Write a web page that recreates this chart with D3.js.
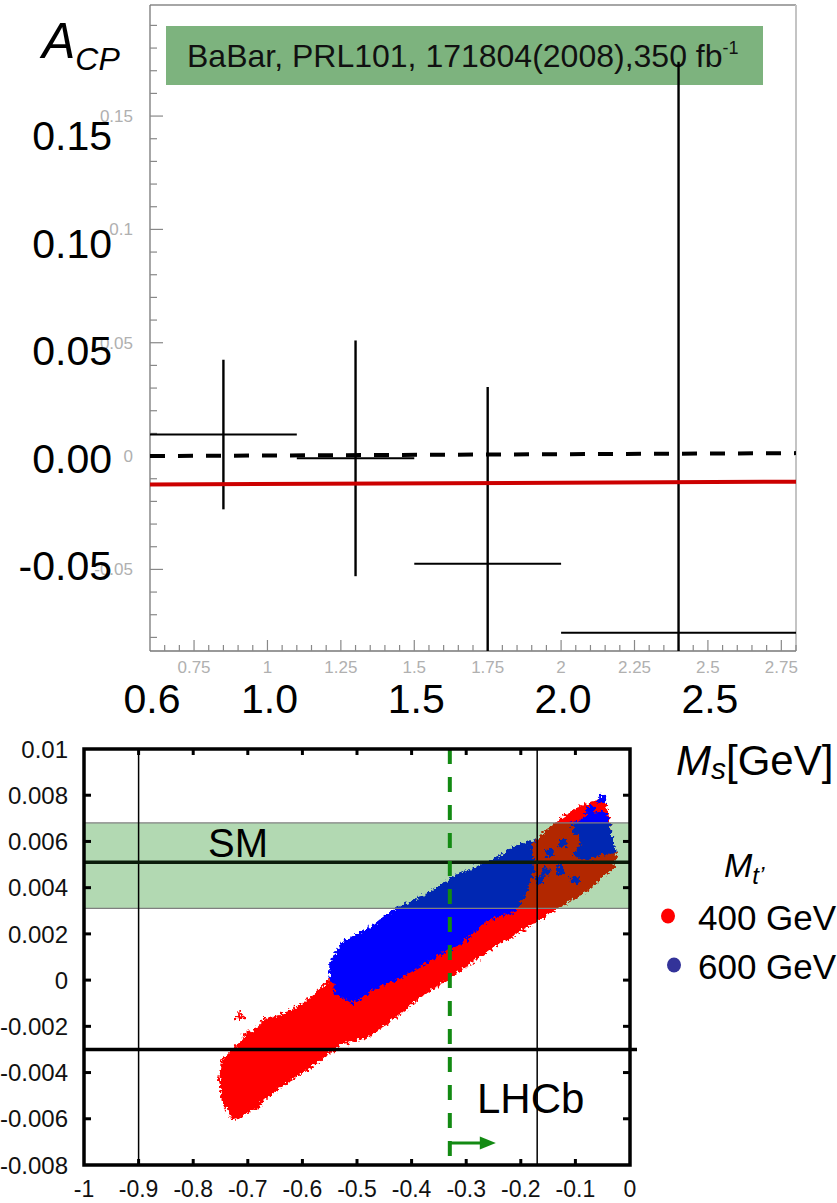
<!DOCTYPE html>
<html>
<head>
<meta charset="utf-8">
<script src="https://cdn.jsdelivr.net/npm/d3@7"></script>
<style>
  body { margin: 0; background: #fff; }
  svg { display: block; font-family: "Liberation Sans", Arial, sans-serif; }
</style>
</head>
<body>
<svg id="fig" width="837" height="1203"></svg>
<script>
// upper panel: A_CP per M_s bin
var binEdges = [[0.6, 1.1], [1.1, 1.5], [1.5, 2.0], [2.0, 2.8]];
var binCenters = [0.85, 1.3, 1.75, 2.4];
var acpValues = [0.0095, -0.001, -0.0475, -0.078];
var acpErrors = [0.033, 0.052, 0.078, 0.252];
var smLine = [[0.6, 0], [2.8, 0.0013]];
var modelLine = [[0.6, -0.0125], [2.8, -0.0113]];
var smallTicksY = [-0.05, 0, 0.05, 0.1, 0.15];
var smallLabelsY = ["-0.05", "0", "0.05", "0.1", "0.15"];
var smallTicksX = [0.75, 1, 1.25, 1.5, 1.75, 2, 2.25, 2.5, 2.75];
var smallLabelsX = ["0.75", "1", "1.25", "1.5", "1.75", "2", "2.25", "2.5", "2.75"];
var bigTicksY = [0.15, 0.10, 0.05, 0, -0.05];
var bigLabelsY = ["0.15", "0.10", "0.05", "0.00", "-0.05"];
var bigTicksX = [0.6, 1.0, 1.5, 2.0, 2.5];
var bigLabelsX = ["0.6", "1.0", "1.5", "2.0", "2.5"];

// lower panel: scan regions, outlines in data units
var redCloud = [
  [-0.751, -0.00432], [-0.745, -0.00530], [-0.727, -0.00600], [-0.714, -0.00590],
  [-0.687, -0.00553], [-0.665, -0.00506], [-0.623, -0.00432], [-0.568, -0.00346],
  [-0.526, -0.00272], [-0.482, -0.00246], [-0.421, -0.00142], [-0.385, -0.00073],
  [-0.330, 0.00013], [-0.251, 0.00143], [-0.178, 0.00247], [-0.141, 0.00303],
  [-0.079, 0.00390], [-0.031, 0.00489], [-0.024, 0.00533], [-0.033, 0.00576],
  [-0.037, 0.00650], [-0.042, 0.00727], [-0.049, 0.00779], [-0.073, 0.00766],
  [-0.092, 0.00749], [-0.123, 0.00701], [-0.152, 0.00650], [-0.178, 0.00585],
  [-0.201, 0.00563], [-0.275, 0.00433], [-0.385, 0.00260], [-0.476, 0.00152],
  [-0.513, 0.00065], [-0.518, 0.00031], [-0.544, 0.00013], [-0.581, -0.00073],
  [-0.617, -0.00129], [-0.665, -0.00173], [-0.714, -0.00272], [-0.745, -0.00346]
];
var blueCloud = [
  [-0.549, 0.00078], [-0.526, 0.00161], [-0.495, 0.00204], [-0.476, 0.00225],
  [-0.440, 0.00290], [-0.421, 0.00316], [-0.379, 0.00360], [-0.348, 0.00403],
  [-0.324, 0.00446], [-0.280, 0.00489], [-0.238, 0.00533], [-0.214, 0.00576],
  [-0.189, 0.00593], [-0.165, 0.00606], [-0.152, 0.00640], [-0.123, 0.00660],
  [-0.092, 0.00690], [-0.065, 0.00720], [-0.046, 0.00727], [-0.037, 0.00650],
  [-0.028, 0.00560], [-0.046, 0.00511], [-0.073, 0.00476], [-0.128, 0.00433],
  [-0.156, 0.00390], [-0.178, 0.00325], [-0.225, 0.00290], [-0.262, 0.00260],
  [-0.311, 0.00160], [-0.366, 0.00090], [-0.416, 0.00022], [-0.476, -0.00043],
  [-0.507, -0.00099], [-0.537, -0.00056], [-0.549, 0.00022]
];
var redOverlay = [
  [-0.178, 0.00585], [-0.152, 0.00640], [-0.128, 0.00684], [-0.101, 0.00658],
  [-0.092, 0.00585], [-0.110, 0.00542], [-0.082, 0.00511], [-0.046, 0.00541],
  [-0.024, 0.00533], [-0.031, 0.00489], [-0.079, 0.00390], [-0.141, 0.00303],
  [-0.178, 0.00247], [-0.201, 0.00225], [-0.211, 0.00282], [-0.189, 0.00369],
  [-0.174, 0.00476]
];
var blueMarks = [
  [-0.123, 0.00593], [-0.097, 0.00650], [-0.147, 0.00550], [-0.128, 0.00476],
  [-0.165, 0.00433], [-0.101, 0.00433], [-0.051, 0.00784], [-0.073, 0.00736],
  [-0.188, 0.00520], [-0.155, 0.00470], [-0.060, 0.00600], [-0.085, 0.00560]
];
var redMarks = [[-0.668, -0.00181], [-0.683, -0.00540], [-0.700, -0.00240], [-0.715, -0.00160]];
var smBand = [0.0031, 0.0068];
var smCentral = 0.0051;
var lhcbLimit = -0.003;
var refLinesX = [-0.9, -0.17];
var lhcbCutX = -0.33;
var botTicksX = [-1, -0.9, -0.8, -0.7, -0.6, -0.5, -0.4, -0.3, -0.2, -0.1, 0];
var botLabelsX = ["-1", "-0.9", "-0.8", "-0.7", "-0.6", "-0.5", "-0.4", "-0.3", "-0.2", "-0.1", "0"];
var botTicksY = [0.01, 0.008, 0.006, 0.004, 0.002, 0, -0.002, -0.004, -0.006, -0.008];
var botLabelsY = ["0.01", "0.008", "0.006", "0.004", "0.002", "0", "-0.002", "-0.004", "-0.006", "-0.008"];
var legendNames = ["400 GeV", "600 GeV"];
var legendColors = ["#ff0000", "#333399"];

var svg = d3.select("#fig");
svg.append("rect").attr("width", 837).attr("height", 1203).attr("fill", "#fff");
var defs = svg.append("defs");

// ---------- upper panel ----------
var xTop = d3.scaleLinear().domain([0.6, 2.8]).range([150, 796]);
var yTop = d3.scaleLinear().domain([-0.086, 0.199]).range([651, 5]);
var bigY = d3.scaleLinear().domain([-0.05, 0.15]).range([580, 150]);

defs.append("clipPath").attr("id", "clipTop")
  .append("rect").attr("x", 150).attr("y", 5).attr("width", 646).attr("height", 646);

var upper = svg.append("g");

upper.append("rect").attr("x", 166).attr("y", 26).attr("width", 597).attr("height", 59)
  .attr("fill", "#7db37e");
var ref = upper.append("text").attr("x", 187).attr("y", 67).attr("font-size", 32).attr("fill", "#111");
ref.append("tspan").text("BaBar, PRL101, 171804(2008),350 fb");
ref.append("tspan").attr("font-size", 18).attr("dy", -13).text("-1");

// frame
upper.append("line").attr("x1", 150).attr("x2", 796).attr("y1", 5).attr("y2", 5).attr("stroke", "#888").attr("stroke-width", 1.3);
upper.append("line").attr("x1", 796).attr("x2", 796).attr("y1", 5).attr("y2", 651).attr("stroke", "#c4c4c4").attr("stroke-width", 2);
upper.append("line").attr("x1", 150).attr("x2", 150).attr("y1", 5).attr("y2", 651).attr("stroke", "#777").attr("stroke-width", 1.3);
upper.append("line").attr("x1", 150).attr("x2", 796).attr("y1", 651).attr("y2", 651).attr("stroke", "#777").attr("stroke-width", 1.3);

// minor/major ticks
var yMinor = d3.range(-8, 20);
upper.selectAll(".ty").data(yMinor).enter().append("line")
  .attr("x1", 150).attr("x2", function(i){ return i % 5 === 0 ? 163 : 157; })
  .attr("y1", function(i){ return yTop(i / 100); }).attr("y2", function(i){ return yTop(i / 100); })
  .attr("stroke", "#888").attr("stroke-width", 1.2);
var xMinor = d3.range(13, 57);
upper.selectAll(".tx").data(xMinor).enter().append("line")
  .attr("y1", 651).attr("y2", function(i){ return i % 5 === 0 ? 640 : 645; })
  .attr("x1", function(i){ return xTop(i * 0.05); }).attr("x2", function(i){ return xTop(i * 0.05); })
  .attr("stroke", "#888").attr("stroke-width", 1.2);

upper.selectAll(".ly").data(smallTicksY).enter().append("text")
  .attr("x", 133).attr("y", function(d){ return yTop(d); }).attr("dy", "0.35em")
  .attr("text-anchor", "end").attr("font-size", 17).attr("fill", "#b0b0b0")
  .text(function(d, i){ return smallLabelsY[i]; });
upper.selectAll(".lx").data(smallTicksX).enter().append("text")
  .attr("x", function(d){ return xTop(d); }).attr("y", 673)
  .attr("text-anchor", "middle").attr("font-size", 17).attr("fill", "#b0b0b0")
  .text(function(d, i){ return smallLabelsX[i]; });

// error bars
var bars = upper.append("g").attr("clip-path", "url(#clipTop)");
bars.selectAll(".eh").data(acpValues).enter().append("line")
  .attr("x1", function(d, i){ return xTop(binEdges[i][0]); })
  .attr("x2", function(d, i){ return xTop(binEdges[i][1]); })
  .attr("y1", function(d){ return yTop(d); }).attr("y2", function(d){ return yTop(d); })
  .attr("stroke", "#000").attr("stroke-width", 2);
bars.selectAll(".ev").data(acpValues).enter().append("line")
  .attr("x1", function(d, i){ return xTop(binCenters[i]); })
  .attr("x2", function(d, i){ return xTop(binCenters[i]); })
  .attr("y1", function(d, i){ return yTop(d - acpErrors[i]); })
  .attr("y2", function(d, i){ return yTop(d + acpErrors[i]); })
  .attr("stroke", "#000").attr("stroke-width", 2.4);

var lineTop = d3.line().x(function(d){ return xTop(d[0]); }).y(function(d){ return yTop(d[1]); });
upper.append("path").attr("d", lineTop(smLine)).attr("fill", "none")
  .attr("stroke", "#000").attr("stroke-width", 4).attr("stroke-dasharray", "15,13");
upper.append("path").attr("d", lineTop(modelLine)).attr("fill", "none")
  .attr("stroke", "#cc0000").attr("stroke-width", 4);

// large overlaid labels
upper.selectAll(".by").data(bigTicksY).enter().append("text")
  .attr("x", 112).attr("y", function(d){ return bigY(d); })
  .attr("text-anchor", "end").attr("font-size", 41).attr("fill", "#000")
  .text(function(d, i){ return bigLabelsY[i]; });
upper.selectAll(".bx").data(bigTicksX).enter().append("text")
  .attr("x", function(d){ return xTop(d) + 2; }).attr("y", 713)
  .attr("text-anchor", "middle").attr("font-size", 41).attr("fill", "#000")
  .text(function(d, i){ return bigLabelsX[i]; });

var acp = upper.append("text").attr("x", 42).attr("y", 58).attr("font-style", "italic").attr("fill", "#000");
acp.append("tspan").attr("font-size", 50).text("A");
acp.append("tspan").attr("font-size", 32).attr("dy", 12).text("CP");

var ms = upper.append("text").attr("x", 676).attr("y", 775).attr("fill", "#000");
ms.append("tspan").attr("font-size", 42).attr("font-style", "italic").text("M");
ms.append("tspan").attr("font-size", 30).attr("font-style", "italic").attr("dy", 4).text("s");
ms.append("tspan").attr("font-size", 42).attr("dy", -4).text("[GeV]");

// ---------- lower panel ----------
var xBot = d3.scaleLinear().domain([-1, 0]).range([84, 630]);
var yBot = d3.scaleLinear().domain([-0.008, 0.01]).range([1165, 749]);

defs.append("clipPath").attr("id", "clipBot")
  .append("rect").attr("x", 84).attr("y", 749).attr("width", 546).attr("height", 416);
var rough = defs.append("filter").attr("id", "rough")
  .attr("x", "-5%").attr("y", "-5%").attr("width", "110%").attr("height", "110%");
rough.append("feTurbulence").attr("type", "fractalNoise").attr("baseFrequency", 0.3)
  .attr("numOctaves", 2).attr("seed", 4).attr("result", "noise");
rough.append("feDisplacementMap").attr("in", "SourceGraphic").attr("in2", "noise")
  .attr("scale", 9).attr("xChannelSelector", "R").attr("yChannelSelector", "G");

var lower = svg.append("g");
var poly = d3.line().x(function(d){ return xBot(d[0]); }).y(function(d){ return yBot(d[1]); })
  .curve(d3.curveLinearClosed);

var scan = lower.append("g").attr("clip-path", "url(#clipBot)").append("g").attr("filter", "url(#rough)");
scan.append("path").attr("d", poly(redCloud)).attr("fill", "#ff0000").attr("stroke", "#ff0000").attr("stroke-width", 2);
scan.append("path").attr("d", poly(blueCloud)).attr("fill", "#0000ff").attr("stroke", "#0000ff").attr("stroke-width", 2);
scan.append("path").attr("d", poly(redOverlay)).attr("fill", "#ff0000").attr("stroke", "#ff0000").attr("stroke-width", 2);
scan.selectAll(".bm").data(blueMarks).enter().append("rect")
  .attr("x", function(d){ return xBot(d[0]) - 4; }).attr("y", function(d){ return yBot(d[1]) - 4; })
  .attr("width", 8).attr("height", 8).attr("fill", "#0000ff");
scan.selectAll(".rm").data(redMarks).enter().append("path")
  .attr("transform", function(d){ return "translate(" + xBot(d[0]) + "," + yBot(d[1]) + ")"; })
  .attr("d", "M-5,0H5M0,-5V5").attr("stroke", "#ff0000").attr("stroke-width", 2.5);

// SM band sits over the scan points
lower.append("rect").attr("x", xBot(-1)).attr("width", xBot(0) - xBot(-1))
  .attr("y", yBot(smBand[1])).attr("height", yBot(smBand[0]) - yBot(smBand[1]))
  .attr("fill", "rgb(0,130,0)").attr("fill-opacity", 0.3);
lower.selectAll(".be").data(smBand).enter().append("line")
  .attr("x1", xBot(-1)).attr("x2", xBot(0))
  .attr("y1", function(d){ return yBot(d); }).attr("y2", function(d){ return yBot(d); })
  .attr("stroke", "#808080").attr("stroke-width", 1.2);

lower.selectAll(".vl").data(refLinesX).enter().append("line")
  .attr("x1", function(d){ return xBot(d); }).attr("x2", function(d){ return xBot(d); })
  .attr("y1", yBot(0.01)).attr("y2", yBot(-0.008))
  .attr("stroke", "#000").attr("stroke-width", 1.5);
lower.append("line").attr("x1", xBot(-1)).attr("x2", xBot(0) + 1)
  .attr("y1", yBot(smCentral)).attr("y2", yBot(smCentral))
  .attr("stroke", "#0b1c0b").attr("stroke-width", 3.5);
lower.append("line").attr("x1", xBot(-1)).attr("x2", xBot(0) + 7)
  .attr("y1", yBot(lhcbLimit)).attr("y2", yBot(lhcbLimit))
  .attr("stroke", "#000").attr("stroke-width", 3.5);
lower.append("line").attr("x1", xBot(lhcbCutX)).attr("x2", xBot(lhcbCutX))
  .attr("y1", yBot(0.01)).attr("y2", yBot(-0.008))
  .attr("stroke", "#138a13").attr("stroke-width", 4).attr("stroke-dasharray", "15,13");

// arrow pointing to the allowed side of the cut
var ax = xBot(lhcbCutX), ay = 1143;
lower.append("line").attr("x1", ax).attr("x2", ax + 32).attr("y1", ay).attr("y2", ay)
  .attr("stroke", "#138a13").attr("stroke-width", 3);
lower.append("path").attr("d", "M" + (ax + 30) + "," + (ay - 6.5) + "L" + (ax + 46) + "," + ay + "L" + (ax + 30) + "," + (ay + 6.5) + "Z")
  .attr("fill", "#138a13");

// frame and ticks
lower.append("rect").attr("x", 84).attr("y", 749).attr("width", 546).attr("height", 416)
  .attr("fill", "none").attr("stroke", "#000").attr("stroke-width", 3.5);
var inner = botTicksY.slice(1, -1);
lower.selectAll(".tl").data(inner).enter().append("line")
  .attr("x1", 84).attr("x2", 91).attr("y1", function(d){ return yBot(d); }).attr("y2", function(d){ return yBot(d); })
  .attr("stroke", "#000").attr("stroke-width", 3);
lower.selectAll(".tr").data(inner).enter().append("line")
  .attr("x1", 623).attr("x2", 630).attr("y1", function(d){ return yBot(d); }).attr("y2", function(d){ return yBot(d); })
  .attr("stroke", "#000").attr("stroke-width", 3);
var innerX = botTicksX.slice(1, -1);
lower.selectAll(".tt").data(innerX).enter().append("line")
  .attr("x1", function(d){ return xBot(d); }).attr("x2", function(d){ return xBot(d); })
  .attr("y1", 749).attr("y2", 755).attr("stroke", "#000").attr("stroke-width", 3);
lower.selectAll(".tb").data(innerX).enter().append("line")
  .attr("x1", function(d){ return xBot(d); }).attr("x2", function(d){ return xBot(d); })
  .attr("y1", 1165).attr("y2", 1159).attr("stroke", "#000").attr("stroke-width", 3);

lower.selectAll(".yl").data(botTicksY).enter().append("text")
  .attr("x", 68).attr("y", function(d){ return yBot(d); }).attr("dy", "0.36em")
  .attr("text-anchor", "end").attr("font-size", 24).attr("fill", "#111")
  .text(function(d, i){ return botLabelsY[i]; });
lower.selectAll(".xl").data(botTicksX).enter().append("text")
  .attr("x", function(d){ return xBot(d); }).attr("y", 1197)
  .attr("text-anchor", "middle").attr("font-size", 23).attr("fill", "#111")
  .text(function(d, i){ return botLabelsX[i]; });

lower.append("text").attr("x", 208).attr("y", 857).attr("font-size", 40).attr("fill", "#000").text("SM");
lower.append("text").attr("x", 477).attr("y", 1113).attr("font-size", 42).attr("fill", "#000").text("LHCb");

// legend
var lt = lower.append("text").attr("x", 724).attr("y", 877).attr("font-style", "italic").attr("fill", "#000");
lt.append("tspan").attr("font-size", 34).text("M");
lt.append("tspan").attr("font-size", 24).attr("dy", 7).text("t\u2019");
var leg = lower.selectAll(".lg").data(legendNames).enter().append("g")
  .attr("transform", function(d, i){ return "translate(0," + (i * 49) + ")"; });
leg.append("ellipse").attr("cx", function(d, i){ return i ? 674 : 668; }).attr("cy", 916)
  .attr("rx", 7).attr("ry", 7.5).attr("fill", function(d, i){ return legendColors[i]; });
leg.append("text").attr("x", 698).attr("y", 930).attr("font-size", 35).attr("fill", "#000")
  .text(function(d){ return d; });
</script>
</body>
</html>
